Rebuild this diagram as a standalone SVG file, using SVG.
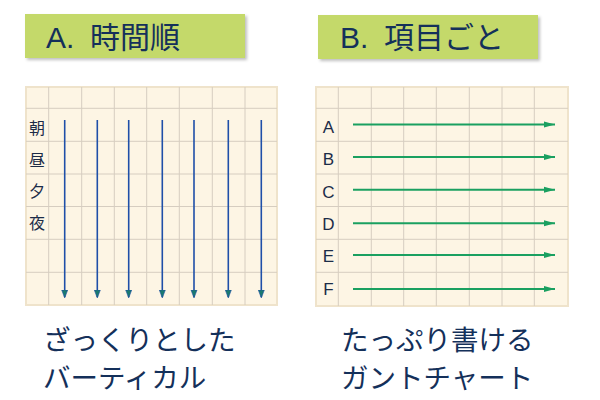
<svg xmlns="http://www.w3.org/2000/svg" width="600" height="400" viewBox="0 0 600 400">
<style>
.title{font-family:"Noto Sans CJK JP","Liberation Sans",sans-serif;font-size:30px;fill:#14305a}
.lat{font-family:"Liberation Sans","Noto Sans",sans-serif}
.cap{font-family:"Noto Sans CJK JP","Liberation Sans",sans-serif;font-size:27.5px;fill:#14305a}
.lab{font-family:"Noto Sans CJK JP","Liberation Sans",sans-serif;font-size:16px;fill:#1c2c48;text-anchor:middle}
.labl{font-family:"Liberation Sans","Noto Sans",sans-serif;font-size:17px;fill:#1c2c48;text-anchor:middle}
.bg{fill:#fdf5e4;stroke:#efe3cb;stroke-width:2}
.gl{stroke:#d6cdc0;stroke-width:1;fill:none}
.va{stroke:#1f4fa8;stroke-width:1.6;fill:none}
.ha{stroke:#1aa060;stroke-width:2;fill:none}
.box{fill:#c4d96a}
</style>
<defs>
<filter id="sh" x="-5%" y="-10%" width="115%" height="130%">
<feDropShadow dx="2" dy="2" stdDeviation="1.5" flood-color="#000" flood-opacity="0.25"/>
</filter>
<marker id="ab" markerWidth="8" markerHeight="12" refX="7" refY="6" orient="auto" markerUnits="userSpaceOnUse">
<path d="M0,3 L8,6 L0,9 Z" fill="#1a7a70" stroke="#1f4fa8" stroke-width="0.6"/>
</marker>
<marker id="ag" markerWidth="12" markerHeight="8" refX="11" refY="4" orient="auto" markerUnits="userSpaceOnUse">
<path d="M0,1 L11,4 L0,7 Z" fill="#1aa060"/>
</marker>
</defs>

<g id="titleA">
<rect class="box" x="25" y="14" width="220" height="44" filter="url(#sh)"/>
<text class="title" y="48"><tspan class="lat" x="46">A.</tspan><tspan x="90">時間順</tspan></text>
</g>
<g id="titleB">
<rect class="box" x="318" y="15" width="220" height="44" filter="url(#sh)"/>
<text class="title" y="48"><tspan class="lat" x="340">B.</tspan><tspan x="384">項目ごと</tspan></text>
</g>

<g id="gridA">
<rect class="bg" x="26" y="87" width="251" height="218"/>
<path class="gl" d="M48.7,87V305M81.7,87V305M114.3,87V305M146.7,87V305M179.3,87V305M212.3,87V305M245,87V305M26,108.3H277M26,141.3H277M26,174H277M26,206.5H277M26,239.3H277M26,272.3H277"/>
<text class="lab" x="37" y="134">朝</text>
<text class="lab" x="37" y="166">昼</text>
<text class="lab" x="37" y="197">夕</text>
<text class="lab" x="37" y="229">夜</text>
</g>

<g id="gridB">
<rect class="bg" x="316" y="87" width="252" height="219"/>
<path class="gl" d="M338.3,87V306M371.3,87V306M403.7,87V306M436.3,87V306M469.3,87V306M502,87V306M534.3,87V306M316,108.3H568M316,141.3H568M316,174H568M316,206.5H568M316,239.3H568M316,272.3H568"/>
<text class="labl" x="328.5" y="133">A</text>
<text class="labl" x="328.5" y="165">B</text>
<text class="labl" x="328.5" y="197.5">C</text>
<text class="labl" x="328.5" y="230">D</text>
<text class="labl" x="328.5" y="262">E</text>
<text class="labl" x="328.5" y="295">F</text>
</g>

<g id="connectors">
<path class="va" marker-end="url(#ab)" d="M64.7,120V297"/>
<path class="va" marker-end="url(#ab)" d="M97.3,120V297"/>
<path class="va" marker-end="url(#ab)" d="M128.7,120V297"/>
<path class="va" marker-end="url(#ab)" d="M162.3,120V297"/>
<path class="va" marker-end="url(#ab)" d="M194,120V297"/>
<path class="va" marker-end="url(#ab)" d="M228.3,120V297"/>
<path class="va" marker-end="url(#ab)" d="M261.3,120V297"/>
<path class="ha" marker-end="url(#ag)" d="M353,124.5H555"/>
<path class="ha" marker-end="url(#ag)" d="M353,157H555"/>
<path class="ha" marker-end="url(#ag)" d="M353,189.7H555"/>
<path class="ha" marker-end="url(#ag)" d="M353,223.3H555"/>
<path class="ha" marker-end="url(#ag)" d="M353,255H555"/>
<path class="ha" marker-end="url(#ag)" d="M353,289H555"/>
</g>

<g id="captionA">
<text class="cap" x="43" y="350">ざっくりとした</text>
<text class="cap" x="43" y="388">バーティカル</text>
</g>
<g id="captionB">
<text class="cap" x="341" y="350">たっぷり書ける</text>
<text class="cap" x="341" y="388">ガントチャート</text>
</g>
</svg>
